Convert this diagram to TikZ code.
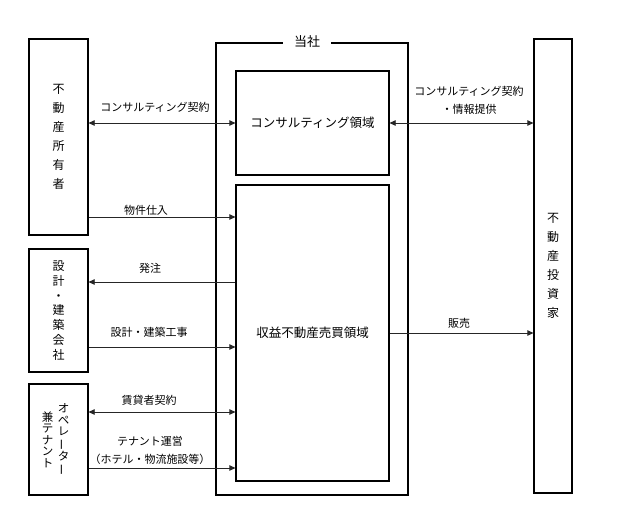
\documentclass[tikz,border=0pt]{standalone}
\usepackage{fontspec}
\setmainfont{Noto Sans CJK JP}
\usetikzlibrary{arrows.meta}

\newcommand{\tatebar}{\rotatebox[origin=c]{90}{ー}}

\tikzset{
  party/.style={draw, line width=1.2pt, minimum width=59pt, inner sep=0pt, align=center},
  area/.style={draw, line width=1.2pt, minimum width=153pt, inner sep=0pt,
    font=\fontsize{12.5}{14}\selectfont},
  flow/.style={line width=0.7pt, color=black!85,
    >={Triangle[length=6pt,width=5.5pt]}},
  tag/.style={font=\fontsize{11}{18}\selectfont, align=center, inner sep=0pt},
}

\begin{document}
\begin{tikzpicture}[%
      x=1pt, y=-1pt,
      ]
      \useasboundingbox (0,0) rectangle (625,509);

      % players on the left and right
      \node [party, minimum height=196pt, font=\fontsize{12}{19}\selectfont] (owner) at (58.5,137)
        {不\\動\\産\\所\\有\\者};
      \node [party, minimum height=123pt, font=\fontsize{12}{14.8}\selectfont] (builder) at (58.5,310.5)
        {設\\計\\・\\建\\築\\会\\社};
      \node [party, minimum height=111pt] (operator) at (58.5,439.5) {};
      \node [tag, font=\fontsize{11.5}{11.5}\selectfont] (operatorA) at ([xshift=5pt]operator.center)
        {オ\\ペ\\レ\\\tatebar\\タ\\\tatebar};
      \node [tag, font=\fontsize{11.5}{11.5}\selectfont] (operatorB) at ([xshift=-11pt]operator.center)
        {兼\\テ\\ナ\\ン\\ト};
      \node [party, minimum width=38pt, minimum height=454pt, font=\fontsize{12}{19}\selectfont] (investor) at (553,266)
        {不\\動\\産\\投\\資\\家};

      % the company
      \node [area, minimum height=104pt] (consult) at (312.5,123) {コンサルティング領域};
      \node [area, minimum height=296pt] (income) at (312.5,333) {収益不動産売買領域};
      \node [font=\fontsize{13}{14}\selectfont, inner xsep=11pt, inner ysep=0pt] (title) at (307,42) {当社};
      \coordinate (cbl) at (216,495);
      \coordinate (ctr) at (408,43);
      \draw [line width=1.2pt] (title.west |- ctr) -| (cbl) -| (ctr) -- (title.east |- ctr);

      % flows
      \coordinate (buy) at (0,217);
      \coordinate (order) at (0,282);
      \coordinate (build) at (0,347);
      \coordinate (lease) at (0,412);
      \coordinate (run) at (0,468);

      \draw [flow,<->] (owner.east |- consult.west) -- (consult.west);
      \draw [flow,<->] (consult.east) -- (investor.west |- consult.east);
      \draw [flow,->] (owner.east |- buy) -- (income.west |- buy);
      \draw [flow,->] (income.west |- order) -- (builder.east |- order);
      \draw [flow,->] (builder.east |- build) -- (income.west |- build);
      \draw [flow,<->] (operator.east |- lease) -- (income.west |- lease);
      \draw [flow,->] (operator.east |- run) -- (income.west |- run);
      \draw [flow,->] (income.east) -- (investor.west |- income.east);

      \node [tag] at (155,107) {コンサルティング契約};
      \node [tag] at (146,210) {物件仕入};
      \node [tag] at (150,268) {発注};
      \node [tag] at (149,332) {設計・建築工事};
      \node [tag] at (149,400) {賃貸者契約};
      \node [tag] at (150,450) {テナント運営\\（ホテル・物流施設等）};
      \node [tag] at (469,100) {コンサルティング契約\\・情報提供};
      \node [tag] at (459,323) {販売};
      \end{tikzpicture}
\end{document}
